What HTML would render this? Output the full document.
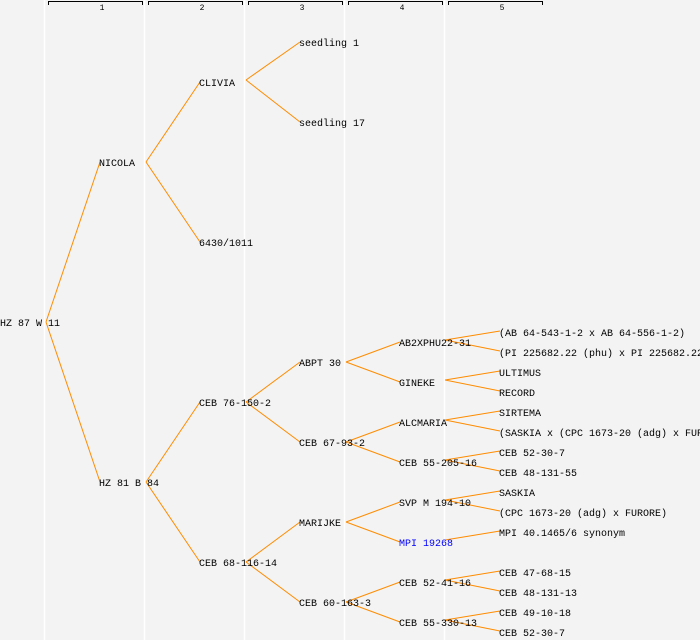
<!DOCTYPE html>
<html><head><meta charset="utf-8"><style>
html,body{margin:0;padding:0;background:#f3f3f3;}
svg{display:block}
text{font-family:"Liberation Mono","DejaVu Sans Mono",monospace;font-size:10px;fill:#000}
.h{font-size:8px;text-anchor:middle}
</style></head><body>
<svg width="700" height="640" xmlns="http://www.w3.org/2000/svg">
<rect width="700" height="640" fill="#f3f3f3"/>
<g stroke="#ffffff" stroke-width="1.5">
<line x1="44.5" y1="0" x2="44.5" y2="640"/>
<line x1="144.5" y1="0" x2="144.5" y2="640"/>
<line x1="244.5" y1="0" x2="244.5" y2="640"/>
<line x1="344.5" y1="0" x2="344.5" y2="640"/>
<line x1="444.5" y1="0" x2="444.5" y2="640"/>
</g>
<g stroke="#000" stroke-width="1" fill="none">
<path d="M48.5 5V1.5H142.5V5"/>
<path d="M148.5 5V1.5H242.5V5"/>
<path d="M248.5 5V1.5H342.5V5"/>
<path d="M348.5 5V1.5H442.5V5"/>
<path d="M448.5 5V1.5H542.5V5"/>
</g>
<text class="h" x="102" y="10">1</text>
<text class="h" x="202" y="10">2</text>
<text class="h" x="302" y="10">3</text>
<text class="h" x="402" y="10">4</text>
<text class="h" x="502" y="10">5</text>
<g stroke="#ff8c00" stroke-width="1" fill="none">
<path d="M46 322L100 162M46 322L100 482"/>
<path d="M146 162L200 82M146 162L200 242"/>
<path d="M246 80L300 42M246 80L300 122"/>
<path d="M146 482L200 402M146 482L200 562"/>
<path d="M246 402L300 362M246 402L300 442"/>
<path d="M246 562L300 522M246 562L300 602"/>
<path d="M346 362L400 342M346 362L400 382"/>
<path d="M346 442L400 422M346 442L400 462"/>
<path d="M346 522L400 502M346 522L400 542"/>
<path d="M346 602L400 582M346 602L400 622"/>
<path d="M445 340L500 331M445 340L500 351"/>
<path d="M445 380L500 371M445 380L500 391"/>
<path d="M445 420L500 411M445 420L500 431"/>
<path d="M445 460L500 451M445 460L500 471"/>
<path d="M445 500L500 491M445 500L500 511"/>
<path d="M445 540L500 531"/>
<path d="M445 580L500 571M445 580L500 591"/>
<path d="M445 620L500 611M445 620L500 631"/>
</g>
<g>
<text x="0" y="326">HZ 87 W 11</text>
<text x="99" y="166">NICOLA</text>
<text x="99" y="486">HZ 81 B 84</text>
<text x="199" y="86">CLIVIA</text>
<text x="199" y="246">6430/1011</text>
<text x="199" y="406">CEB 76-150-2</text>
<text x="199" y="566">CEB 68-116-14</text>
<text x="299" y="46">seedling 1</text>
<text x="299" y="126">seedling 17</text>
<text x="299" y="366">ABPT 30</text>
<text x="299" y="446">CEB 67-93-2</text>
<text x="299" y="526">MARIJKE</text>
<text x="299" y="606">CEB 60-163-3</text>
<text x="399" y="346">AB2XPHU22-31</text>
<text x="399" y="386">GINEKE</text>
<text x="399" y="426">ALCMARIA</text>
<text x="399" y="466">CEB 55-205-16</text>
<text x="399" y="506">SVP M 194-10</text>
<text x="399" y="546" style="fill:#0000ff">MPI 19268</text>
<text x="399" y="586">CEB 52-41-16</text>
<text x="399" y="626">CEB 55-330-13</text>
<text x="499" y="336">(AB 64-543-1-2 x AB 64-556-1-2)</text>
<text x="499" y="356">(PI 225682.22 (phu) x PI 225682.22</text>
<text x="499" y="376">ULTIMUS</text>
<text x="499" y="396">RECORD</text>
<text x="499" y="416">SIRTEMA</text>
<text x="499" y="436">(SASKIA x (CPC 1673-20 (adg) x FURORE))</text>
<text x="499" y="456">CEB 52-30-7</text>
<text x="499" y="476">CEB 48-131-55</text>
<text x="499" y="496">SASKIA</text>
<text x="499" y="516">(CPC 1673-20 (adg) x FURORE)</text>
<text x="499" y="536">MPI 40.1465/6 synonym</text>
<text x="499" y="576">CEB 47-68-15</text>
<text x="499" y="596">CEB 48-131-13</text>
<text x="499" y="616">CEB 49-10-18</text>
<text x="499" y="636">CEB 52-30-7</text>
</g>
</svg>
</body></html>
